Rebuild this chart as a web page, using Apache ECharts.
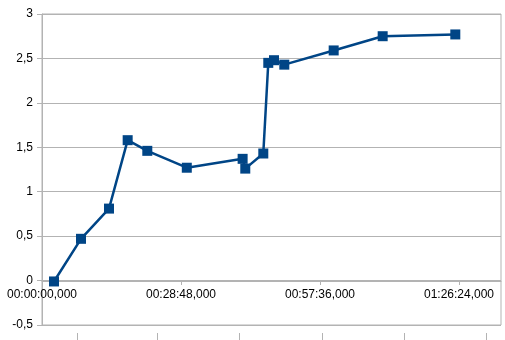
<!DOCTYPE html>
<html>
<head>
<meta charset="utf-8">
<script src="https://cdn.jsdelivr.net/npm/echarts@6/dist/echarts.min.js"></script>
<style>
html,body{margin:0;padding:0;background:#fff;}
#chart{width:505px;height:340px;}
</style>
</head>
<body>
<div id="chart"></div>
<script>
// elapsed time in seconds
var times = [149, 485, 833, 1065, 1309, 1800, 2494, 2527, 2751, 2813, 2884, 3012, 3626, 4235, 5138];
var values = [-0.01, 0.47, 0.81, 1.58, 1.46, 1.27, 1.37, 1.26, 1.43, 2.45, 2.48, 2.43, 2.59, 2.75, 2.77];
var xTickValues = [0, 1728, 3456, 5184];
var xSecondaryTicks = [435, 1430, 2449, 3481, 4500, 5520];

function pad(n){ return (n < 10 ? '0' : '') + n; }
function fmtTime(v){
  var s = Math.round(v);
  var h = Math.floor(s / 3600), m = Math.floor((s % 3600) / 60), sec = s % 60;
  return pad(h) + ':' + pad(m) + ':' + pad(sec) + ',000';
}

var seriesData = times.map(function(t, i){ return [t, values[i]]; });
var gray = '#b3b3b3';
var font = 'Liberation Sans';

var chart = echarts.init(document.getElementById('chart'), null, {renderer: 'canvas'});
chart.setOption({
  animation: false,
  grid: {left: 42, right: 4, top: 14, bottom: 15, show: true, borderColor: gray, borderWidth: 1,
         backgroundColor: 'transparent', containLabel: false, outerBoundsMode: 'none'},
  xAxis: [{
    type: 'value', min: 0, max: 5706, position: 'bottom', offset: -44,
    axisLine: {onZero: false, lineStyle: {color: gray, width: 1}},
    axisTick: {show: true, length: 4, lineStyle: {color: gray}, customValues: xTickValues},
    axisLabel: {customValues: xTickValues, formatter: fmtTime, color: '#000', fontFamily: font, fontSize: 12, margin: 8},
    splitLine: {show: false}
  }, {
    type: 'value', min: 0, max: 5706, position: 'bottom', offset: 8,
    axisLine: {show: false, onZero: false},
    axisTick: {show: true, length: 7, lineStyle: {color: gray}, customValues: xSecondaryTicks},
    axisLabel: {show: false},
    splitLine: {show: false}
  }],
  yAxis: {
    type: 'value', min: -0.5, max: 3, interval: 0.5,
    axisLine: {show: true, onZero: false, lineStyle: {color: gray}},
    axisTick: {show: true, length: 5, lineStyle: {color: gray}},
    axisLabel: {color: '#000', fontFamily: font, fontSize: 12, margin: 9,
      formatter: function(v){ return String(v).replace('.', ','); }},
    splitLine: {show: true, lineStyle: {color: gray, width: 1}}
  },
  series: [{
    type: 'line',
    xAxisIndex: 0,
    data: seriesData,
    symbol: 'rect',
    symbolSize: 10,
    showAllSymbol: true,
    lineStyle: {color: '#004586', width: 2.5},
    itemStyle: {color: '#004586'}
  }]
});
</script>
</body>
</html>
